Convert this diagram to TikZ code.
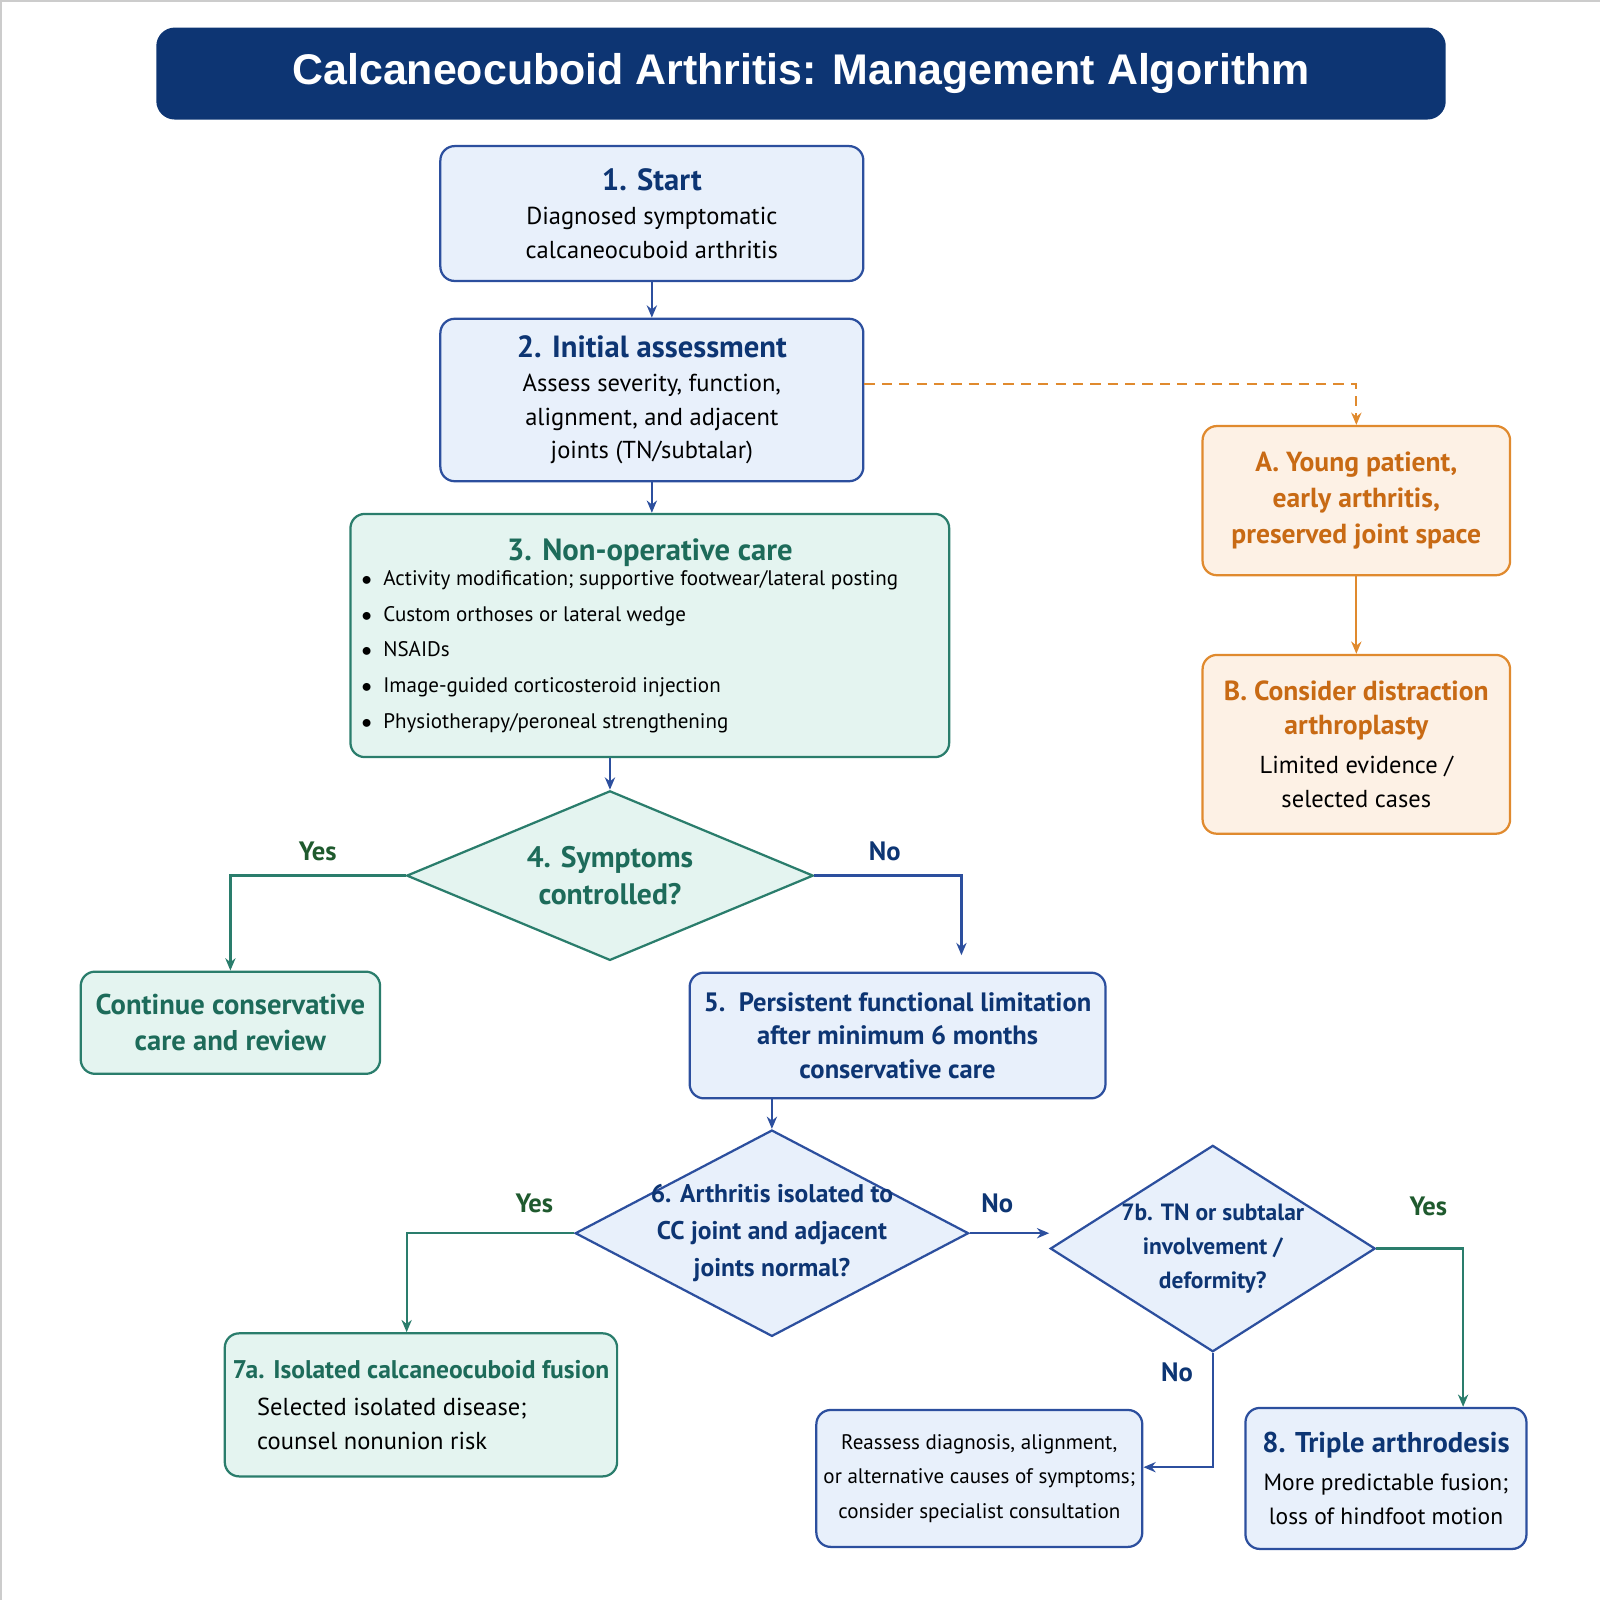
\documentclass[tikz,border=0pt]{standalone}
\usepackage{fontspec}
\setmainfont{PT Sans}
\newfontfamily\titlefont{Liberation Sans}
\usetikzlibrary{shapes.geometric,arrows.meta}
\definecolor{navy}{HTML}{0D3573}
\definecolor{bblue}{HTML}{2C4F9E}
\definecolor{bfill}{HTML}{E8F0FB}
\definecolor{tgreen}{HTML}{2A7D6C}
\definecolor{tfill}{HTML}{E4F4F0}
\definecolor{tdark}{HTML}{1D6B5A}
\definecolor{orng}{HTML}{E08A2E}
\definecolor{ofill}{HTML}{FDF1E5}
\definecolor{otext}{HTML}{C86A14}
\definecolor{ygreen}{HTML}{1F5A2E}
\newcommand\myhb{\fontsize{15}{18}\selectfont\bfseries\color{navy}}
\newcommand\myht{\fontsize{15}{18}\selectfont\bfseries\color{tdark}}
\newcommand\myho{\fontsize{13.5}{18}\selectfont\bfseries\color{otext}}
\newcommand\mybd{\fontsize{12}{16}\selectfont}
\tikzset{
 box/.style={draw, line width=1.1pt, rounded corners=7pt, align=center, inner sep=2pt, font=\fontsize{12}{16.5}\selectfont},
 bbox/.style={box, draw=bblue, fill=bfill},
 tbox/.style={box, draw=tgreen, fill=tfill},
 obox/.style={box, draw=orng, fill=ofill},
 diam/.style={diamond, draw, line width=1.1pt, inner sep=0pt},
 bt/.style={font=\fontsize{14}{17}\selectfont\bfseries, text=navy},
 tt/.style={font=\fontsize{14}{17.5}\selectfont\bfseries, text=tdark},
 ot/.style={font=\fontsize{13.5}{17.5}\selectfont\bfseries, text=otext},
 arr/.style={line width=1.1pt, -{Stealth[length=6pt,width=5pt]}},
 lab/.style={font=\fontsize{13}{15}\selectfont\bfseries},
}
\begin{document}
\begin{tikzpicture}[x=0.5pt,y=-0.5pt]
\useasboundingbox (0,0) rectangle (1566,1566);
\draw[gray!40, line width=1pt] (1,1) rectangle (1599,1599);
\node[fill=navy, rounded corners=9pt, minimum width=631pt, minimum height=45pt, text=white, font=\titlefont\fontsize{21}{24}\selectfont\bfseries] (title) at (784,72) {Calcaneocuboid Arthritis: Management Algorithm};

\node[bbox, minimum width=207pt, minimum height=66pt] (n1) at (638,209)
 {{\myhb 1. Start}\\{\mybd Diagnosed symptomatic}\\{\mybd calcaneocuboid arthritis}};
\node[bbox, minimum width=207pt, minimum height=79.5pt] (n2) at (638,391.5)
 {{\myhb 2. Initial assessment}\\{\mybd Assess severity, function,}\\{\mybd alignment, and adjacent}\\{\mybd joints (TN/subtalar)}};
\node[tbox, minimum width=293pt, minimum height=119pt] (n3) at (636,622)
 {{\myht 3. Non-operative care}\\[1pt]
 \begin{minipage}{282pt}\fontsize{10.3}{17.5}\selectfont
 $\bullet$\; Activity modification; supportive footwear/lateral posting\\
 $\bullet$\; Custom orthoses or lateral wedge\\
 $\bullet$\; NSAIDs\\
 $\bullet$\; Image-guided corticosteroid injection\\
 $\bullet$\; Physiotherapy/peroneal strengthening\end{minipage}};

\node[diam, draw=tgreen, fill=tfill, minimum width=199pt, minimum height=83pt] (d4) at (597,857) {};
\node[tt, align=center, font=\fontsize{14.5}{18}\selectfont\bfseries] at (d4) {4. Symptoms\\controlled?};

\node[tbox, minimum width=146.5pt, minimum height=50pt, tt] (cont) at (225.5,1001) {Continue conservative\\care and review};
\node[bbox, minimum width=203.5pt, minimum height=61.5pt, bt, font=\fontsize{13}{16.5}\selectfont\bfseries] (n5) at (878.5,1013.5) {5.\ \ Persistent functional limitation\\after minimum 6 months\\conservative care};

\node[diam, draw=bblue, fill=bfill, minimum width=192.5pt, minimum height=101pt] (d6) at (755.5,1207) {};
\node[bt, align=center, font=\fontsize{12.5}{18}\selectfont\bfseries] at (d6) {6. Arthritis isolated to\\CC joint and adjacent\\joints normal?};
\node[diam, draw=bblue, fill=bfill, minimum width=159pt, minimum height=101pt] (d7) at (1187,1222) {};
\node[bt, align=center, font=\fontsize{11.5}{16.5}\selectfont\bfseries] at (d7) {7b. TN or subtalar\\involvement /\\deformity?};

\node[tbox, minimum width=192pt, minimum height=70pt, align=left] (n7a) at (412,1375)
 {{\fontsize{12.5}{16}\selectfont\bfseries\color{tdark}7a. Isolated calcaneocuboid fusion}\\[2pt]{\fontsize{12}{18}\selectfont\hspace{12pt}Selected isolated disease;}\\{\fontsize{12}{18}\selectfont\hspace{12pt}counsel nonunion risk}};
\node[bbox, minimum width=159.5pt, minimum height=67pt, font=\fontsize{10.3}{17}\selectfont] (re) at (958.5,1447) {Reassess diagnosis, alignment,\\or alternative causes of symptoms;\\consider specialist consultation};
\node[bbox, minimum width=137.5pt, minimum height=69pt] (n8) at (1356.5,1447)
 {{\fontsize{14}{18}\selectfont\bfseries\color{navy}8. Triple arthrodesis}\\[2pt]{\fontsize{11.5}{16}\selectfont More predictable fusion;}\\{\fontsize{11.5}{16}\selectfont loss of hindfoot motion}};

\node[obox, minimum width=150.5pt, minimum height=73pt, ot] (A) at (1327.5,490) {A. Young patient,\\early arthritis,\\preserved joint space};
\node[obox, minimum width=150.5pt, minimum height=87.5pt] (B) at (1327.5,728.5)
 {{\myho B. Consider distraction}\\{\myho arthroplasty}\\[3pt]{\mybd Limited evidence /}\\{\mybd selected cases}};

\draw[arr, bblue] (n1.south) -- (n2.north);
\draw[arr, bblue] (n2.south) -- (n3.north -| n2.south);
\draw[arr, bblue] (n3.south -| d4.north) -- (d4.north);
\draw[arr, tgreen] (d4.west) -| (cont.north);
\node[lab, text=ygreen] at (311,833) {Yes};
\draw[arr, bblue, shorten >=8pt] (d4.east) -| (n5.north -| 941,0);
\node[lab, text=navy] at (866,833) {No};
\draw[arr, bblue] (n5.south -| d6.north) -- (d6.north);
\draw[arr, tgreen] (d6.west) -| (n7a.north -| 398,0);
\node[lab, text=ygreen] at (523,1178) {Yes};
\draw[arr, bblue] (d6.east) -- (d7.west |- d6.east);
\node[lab, text=navy] at (976,1178) {No};
\draw[arr, tgreen] (d7.east) -| (n8.north -| 1432,0);
\node[lab, text=ygreen] at (1398,1181) {Yes};
\draw[arr, bblue] (d7.south) |- (re.east |- 0,1436);
\node[lab, text=navy] at (1152,1343) {No};
\draw[arr, orng, dashed, dash pattern=on 5pt off 3.5pt] (n2.east |- 0,376) -| (A.north);
\draw[arr, orng] (A.south) -- (B.north);
\end{tikzpicture}
\end{document}
